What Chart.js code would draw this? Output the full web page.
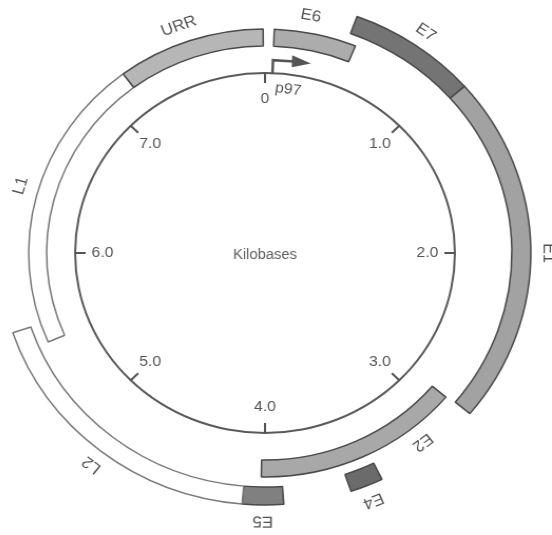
<!DOCTYPE html>
<html><head><meta charset="utf-8">
<script src="https://cdn.jsdelivr.net/npm/chart.js@4.4.1/dist/chart.umd.min.js"></script>
<style>
html,body{margin:0;padding:0;background:#fff;width:552px;height:535px;overflow:hidden;position:relative}
#c{position:absolute;left:-15px;top:-27px;width:560px;height:560px;transform:scaleX(1.055);transform-origin:280px 280px}
</style></head><body>
<canvas id="c" width="560" height="560"></canvas>
<script>
// ---- data (kilobases) ----
const genomeLength = 8.0;
const geneNames  = ['E6', 'E7', 'E1', 'E2', 'E4', 'E5', 'L2', 'L1', 'URR'];
const geneStart  = [0.05, 0.45, 1.08, 2.89, 3.42, 3.91, 4.11, 5.48, 7.18];
const geneEnd    = [0.50, 1.08, 2.88, 4.02, 3.58, 4.11, 5.59, 7.18, 7.99];
const geneTrack  = ['inner','outer','outer','inner','outer','outer','outer','inner','inner'];
const geneLabelAt = [0.23, 0.77, 2.00, 3.15, 3.50, 4.01, 4.84, 6.36, 7.56];
const tickValues = [0, 1, 2, 3, 4, 5, 6, 7];
const tickLabels = ['0', '1.0', '2.0', '3.0', '4.0', '5.0', '6.0', '7.0'];
const promoterName = 'p97';
const promoterPos = 0.05;
const centerLabel = 'Kilobases';

// ---- styles ----
const geneFill = {E6:'#acacac', E7:'#747474', E1:'#a2a2a2', E2:'#a8a8a8', E4:'#6b6b6b', E5:'#808080', L2:'#ffffff', L1:'#ffffff', URR:'#b6b6b6'};
const geneBorder = {L1:'#7a7a7a', L2:'#7a7a7a'};
const FONT = '"Liberation Sans", Arial, sans-serif';

function buildTrack(track){
  const idx = geneNames.map((n,i)=>i).filter(i=>geneTrack[i]===track).sort((a,b)=>geneStart[a]-geneStart[b]);
  const data=[], kinds=[];
  let pos=0;
  idx.forEach(i=>{
    const s=Math.max(geneStart[i],pos);
    if(s>pos){data.push(s-pos);kinds.push(null);}
    data.push(geneEnd[i]-s);kinds.push(geneNames[i]);
    pos=geneEnd[i];
  });
  if(pos<genomeLength){data.push(genomeLength-pos);kinds.push(null);}
  return {data,kinds};
}
function trackDataset(track, weight){
  const t=buildTrack(track);
  return {
    data:t.data, weight:weight,
    backgroundColor:t.kinds.map(k=>k?geneFill[k]:'rgba(0,0,0,0)'),
    borderColor:t.kinds.map(k=>k?(geneBorder[k]||'#4a4a4a'):'rgba(0,0,0,0)'),
    borderWidth:t.kinds.map(k=>k?1.5:0),
    hoverBorderWidth:0
  };
}
const blank = w => ({data:[genomeLength], weight:w, backgroundColor:'rgba(0,0,0,0)', borderWidth:0, hoverBorderWidth:0});

const decor = {
  id:'decor',
  afterDatasetsDraw(chart){
    const ctx=chart.ctx;
    const line=chart.getDatasetMeta(4).data[0];
    const outerArc=chart.getDatasetMeta(0).data[0];
    const innerArc=chart.getDatasetMeta(2).data[0];
    const cx=line.x, cy=line.y;
    const rL=(line.innerRadius+line.outerRadius)/2;
    const ang=v=>v/genomeLength*2*Math.PI;
    const pt=(v,r)=>[cx+r*Math.sin(ang(v)), cy-r*Math.cos(ang(v))];
    ctx.save();
    ctx.strokeStyle='#555'; ctx.fillStyle='#555'; ctx.lineWidth=2;
    ctx.textAlign='center'; ctx.textBaseline='middle';
    ctx.font='15px '+FONT;
    tickValues.forEach((v,i)=>{
      const [x1,y1]=pt(v,rL), [x2,y2]=pt(v,rL-10);
      ctx.beginPath(); ctx.moveTo(x1,y1); ctx.lineTo(x2,y2); ctx.stroke();
      const [tx,ty]=pt(v,rL-26);
      ctx.fillText(tickLabels[i],tx,ty);
    });
    // centre label
    ctx.fillStyle='#606060';
    ctx.font='14px '+FONT;
    ctx.fillText(centerLabel,cx,cy+2);
    // gene labels
    ctx.fillStyle='#555';
    ctx.font='16px '+FONT;
    geneNames.forEach((n,i)=>{
      const r = geneTrack[i]==='outer' ? outerArc.outerRadius+16 : innerArc.outerRadius+17;
      const [x,y]=pt(geneLabelAt[i],r);
      ctx.save(); ctx.translate(x,y); ctx.rotate(ang(geneLabelAt[i]));
      ctx.fillText(n,0,0); ctx.restore();
    });
    // promoter arrow
    ctx.save();
    ctx.translate(cx,cy); ctx.rotate(ang(promoterPos));
    ctx.strokeStyle='#555'; ctx.fillStyle='#555'; ctx.lineWidth=2.5;
    ctx.beginPath(); ctx.moveTo(0,-rL); ctx.lineTo(0,-(rL+13)); ctx.lineTo(20,-(rL+12.5)); ctx.stroke();
    ctx.beginPath(); ctx.moveTo(18,-(rL+18.5)); ctx.lineTo(36,-(rL+11)); ctx.lineTo(18,-(rL+6.5)); ctx.closePath(); ctx.fill();
    ctx.restore();
    // promoter label
    const pv=promoterPos+0.12;
    const [px,py]=pt(pv,rL-15);
    ctx.save(); ctx.translate(px,py); ctx.rotate(ang(pv));
    ctx.font='15px '+FONT; ctx.fillText(promoterName,0,0); ctx.restore();
    ctx.restore();
  }
};

new Chart(document.getElementById('c'), {
  type:'doughnut',
  data:{
    labels:[],
    datasets:[
      trackDataset('outer',18),
      blank(10),
      trackDataset('inner',17),
      blank(26),
      {data:[genomeLength], weight:2, backgroundColor:'#5a5a5a', borderWidth:0, hoverBorderWidth:0}
    ]
  },
  options:{
    responsive:false, animation:false, events:[],
    radius:252, cutout:(179/252*100)+'%',
    rotation:0, circumference:360,
    layout:{padding:0},
    plugins:{legend:{display:false}, tooltip:{enabled:false}}
  },
  plugins:[decor]
});
</script>
</body></html>
